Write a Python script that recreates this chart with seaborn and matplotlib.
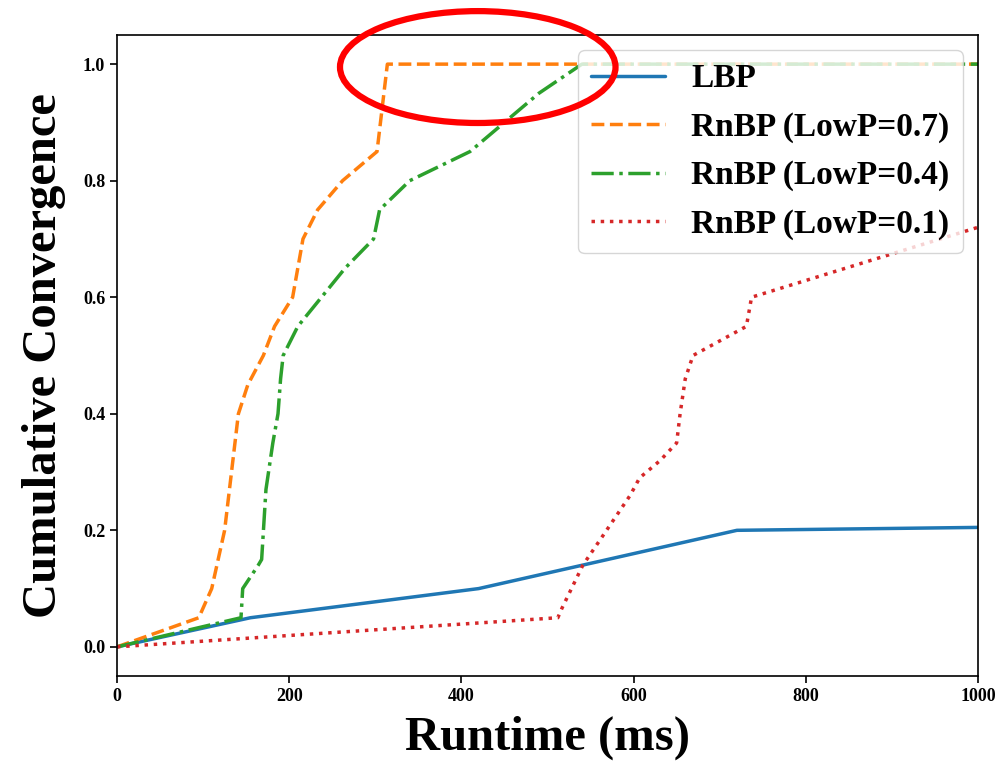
import matplotlib
matplotlib.use("Agg")
import matplotlib.pyplot as plt
import seaborn as sns
import pandas as pd
from matplotlib.patches import Ellipse

# ---- data ----
lbp_x = [0, 155, 420, 720, 1000]
lbp_y = [0.0, 0.05, 0.10, 0.20, 0.205]

p07_x = [0, 95, 110, 125, 133, 141, 152, 170, 183, 204, 216, 233, 262, 302, 314, 1000]
p07_y = [0.0, 0.05, 0.10, 0.20, 0.30, 0.40, 0.45, 0.50, 0.55, 0.60, 0.70, 0.75, 0.80, 0.85, 1.0, 1.0]

p04_x = [0, 144, 146, 164, 168, 173, 181, 187, 190, 193, 210, 265, 298, 305, 340, 410, 450, 490, 540, 1000]
p04_y = [0.0, 0.05, 0.10, 0.14, 0.15, 0.27, 0.35, 0.40, 0.46, 0.50, 0.55, 0.65, 0.70, 0.75, 0.80, 0.85, 0.90, 0.95, 1.0, 1.0]

p01_x = [0, 512, 517, 541, 564, 596, 607, 631, 650, 654, 660, 669, 731, 737, 1000]
p01_y = [0.0, 0.05, 0.067, 0.14, 0.19, 0.26, 0.29, 0.32, 0.35, 0.40, 0.46, 0.50, 0.55, 0.60, 0.72]

labels = ["LBP", "RnBP (LowP=0.7)", "RnBP (LowP=0.4)", "RnBP (LowP=0.1)"]
x_ticks = [0, 200, 400, 600, 800, 1000]
y_ticks = [0.0, 0.2, 0.4, 0.6, 0.8, 1.0]

sns.set_theme(style="ticks")
plt.rcParams["font.family"] = ["Liberation Serif", "DejaVu Serif"]
plt.rcParams["font.weight"] = "bold"
plt.rcParams["text.color"] = "black"
plt.rcParams["axes.labelcolor"] = "black"
plt.rcParams["xtick.color"] = "black"
plt.rcParams["ytick.color"] = "black"

fig = plt.figure(figsize=(10.08, 7.65), dpi=100)
ax = fig.add_axes([117 / 1008, 1 - 676 / 765, (978 - 117) / 1008, (676 - 35) / 765])

series = [(lbp_x, lbp_y), (p07_x, p07_y), (p04_x, p04_y), (p01_x, p01_y)]
colors = ["#1f77b4", "#ff7f0e", "#2ca02c", "#d62728"]
styles = ["-", "--", "-.", ":"]
for (xs, ys), lab, c, ls in zip(series, labels, colors, styles):
    df = pd.DataFrame({"x": xs, "y": ys})
    sns.lineplot(data=df, x="x", y="y", ax=ax, color=c, linestyle=ls,
                 linewidth=2.5, label=lab, sort=False)

ax.set_xlim(0, 1000)
ax.set_ylim(-0.05, 1.05)
ax.set_xticks(x_ticks)
ax.set_yticks(y_ticks)
ax.set_xticklabels([str(t) for t in x_ticks], fontsize=13, fontweight="bold", color="black")
ax.set_yticklabels([f"{t:.1f}" for t in y_ticks], fontsize=13, fontweight="bold", color="black")
ax.set_xlabel("Runtime (ms)", fontsize=35, fontweight="bold", labelpad=8, color="black")
ax.set_ylabel("Cumulative Convergence", fontsize=35, fontweight="bold", labelpad=12, color="black")
for s in ax.spines.values():
    s.set_visible(True)
    s.set_color("black")
    s.set_linewidth(1.2)
ax.tick_params(axis="both", direction="out", length=5, width=1.2, colors="black")

leg = ax.legend(loc="upper right", fontsize=24, frameon=True, handlelength=2.2,
                labelspacing=0.52, borderaxespad=0.45)
for t in leg.get_texts():
    t.set_fontweight("bold")
    t.set_color("black")

ell = Ellipse((419, 0.995), width=320, height=0.192, fill=False,
              edgecolor="red", linewidth=4.5, clip_on=False, zorder=10)
ax.add_patch(ell)

fig.savefig("out.png", dpi=100)
